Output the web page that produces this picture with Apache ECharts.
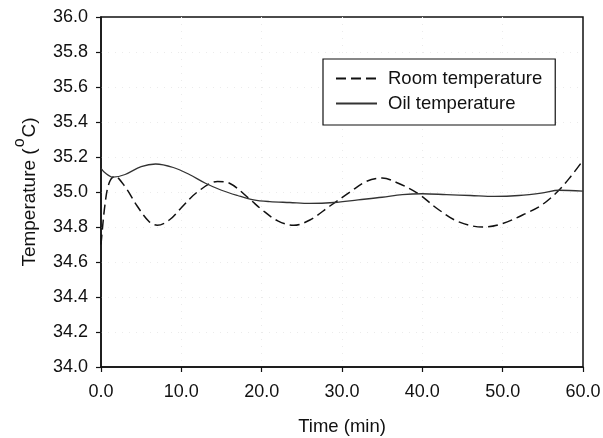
<!DOCTYPE html>
<html>
<head>
<meta charset="utf-8">
<script src="https://cdn.jsdelivr.net/npm/echarts@6/dist/echarts.min.js"></script>
<style>
html,body{margin:0;padding:0;background:#fff;}
#main{width:603px;height:438px;}
</style>
</head>
<body>
<div id="main"></div>
<script>
const roomTime = [0, 0.5, 1, 1.7, 3, 4.5, 6, 7, 8.5, 10, 12, 14.5, 16, 18.5, 20, 22, 24, 26, 28.5, 31, 33, 35, 37, 39.5, 42, 44.5, 47.5, 50, 53, 55, 57, 58.5, 60];
const roomTemp = [34.70, 34.93, 35.05, 35.09, 35.03, 34.92, 34.83, 34.81, 34.84, 34.91, 35.00, 35.06, 35.05, 34.96, 34.90, 34.835, 34.81, 34.84, 34.92, 35.00, 35.06, 35.08, 35.05, 34.99, 34.90, 34.83, 34.80, 34.82, 34.88, 34.93, 35.01, 35.09, 35.18];
const oilTime = [0, 0.5, 1.5, 3, 5, 6.8, 9, 11, 13, 15, 17, 19, 21, 23.5, 26, 29, 32, 35, 37.5, 40, 43, 46, 49, 52, 55, 57, 60];
const oilTemp = [35.135, 35.11, 35.085, 35.10, 35.145, 35.16, 35.14, 35.10, 35.05, 35.01, 34.98, 34.955, 34.945, 34.94, 34.935, 34.94, 34.955, 34.97, 34.985, 34.99, 34.985, 34.98, 34.975, 34.98, 34.995, 35.01, 35.005];
const seriesNames = ['Room temperature', 'Oil temperature'];
const xTitle = 'Time (min)';

const zip = (a, b) => a.map((v, i) => [v, b[i]]);
const font = '"Liberation Sans", Arial, sans-serif';
const splitStyle = { show: true, showMinLine: false, showMaxLine: false, lineStyle: { color: '#ebebeb', type: [1, 6], width: 1 } };

const chart = echarts.init(document.getElementById('main'));
chart.setOption({
  animation: false,
  backgroundColor: '#fff',
  textStyle: { fontFamily: font, color: '#111' },
  grid: { left: 101, right: 20, top: 17, bottom: 71, outerBoundsMode: 'none', containLabel: false, show: true, borderColor: '#111', borderWidth: 1.5, backgroundColor: 'transparent' },
  legend: {
    left: 323, top: 59, orient: 'vertical',
    borderColor: '#111', borderWidth: 1.2, backgroundColor: '#fff',
    padding: [10, 13, 12, 12], itemGap: 6,
    itemWidth: 41, itemHeight: 14,
    itemStyle: { opacity: 0 },
    textStyle: { fontFamily: font, fontSize: 18.5, color: '#111', padding: [0, 0, 0, 6] },
    data: seriesNames
  },
  xAxis: {
    type: 'value', min: 0, max: 60, interval: 10,
    name: xTitle, nameLocation: 'middle', nameGap: 50,
    nameTextStyle: { fontFamily: font, fontSize: 18.5, color: '#111' },
    axisLine: { lineStyle: { color: '#111', width: 1.5 } },
    axisTick: { length: 5, lineStyle: { color: '#111', width: 1.2 } },
    axisLabel: { fontFamily: font, fontSize: 18, color: '#111', margin: 16, formatter: v => v.toFixed(1) },
    splitLine: splitStyle
  },
  yAxis: {
    type: 'value', min: 34, max: 36, interval: 0.2,
    name: '{t|Temperature (}{sup|o}{t|C)}', nameLocation: 'middle', nameGap: 62,
    nameTextStyle: {
      fontFamily: font, fontSize: 19, color: '#111',
      rich: {
        t: { fontFamily: font, fontSize: 19, color: '#111', verticalAlign: 'bottom', lineHeight: 22 },
        sup: { fontFamily: font, fontSize: 16, color: '#111', verticalAlign: 'bottom', padding: [0, 1, 11, 1], lineHeight: 18 }
      }
    },
    axisLine: { lineStyle: { color: '#111', width: 1.5 } },
    axisTick: { length: 5, lineStyle: { color: '#111', width: 1.2 } },
    axisLabel: { fontFamily: font, fontSize: 18, color: '#111', margin: 13, formatter: v => v.toFixed(1) },
    splitLine: splitStyle
  },
  series: [
    {
      name: seriesNames[0], type: 'line', smooth: 0.35, symbol: 'none', showSymbol: false,
      data: zip(roomTime, roomTemp),
      lineStyle: { color: '#111', width: 1.5, type: [10, 5] },
      itemStyle: { color: '#111' }
    },
    {
      name: seriesNames[1], type: 'line', smooth: 0.35, symbol: 'none', showSymbol: false,
      data: zip(oilTime, oilTemp),
      lineStyle: { color: '#333', width: 1.3 },
      itemStyle: { color: '#333' }
    }
  ]
});
</script>
</body>
</html>
